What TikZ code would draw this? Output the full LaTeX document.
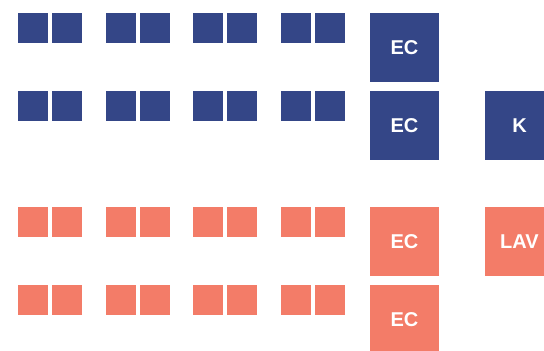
\documentclass[tikz,border=0pt]{standalone}
\usepackage{fontspec}
\setmainfont{Liberation Sans}
\definecolor{navy}{RGB}{52,70,135}
\definecolor{salmon}{RGB}{243,124,104}
\begin{document}
\begin{tikzpicture}[x=1pt,y=-1pt,
  seat/.style={minimum width=30pt,minimum height=30pt,inner sep=0pt,outer sep=0pt,draw=none},
  bigbox/.style={minimum width=69pt,minimum height=69pt,inner sep=0pt,outer sep=0pt,draw=none,
    text=white,font=\fontsize{20}{20}\selectfont\bfseries}]
\useasboundingbox (0,0) rectangle (544,351);
% seat rows
\foreach \r/\y/\c in {1/28/navy,2/106/navy,3/222/salmon,4/300/salmon}{
  \foreach \g/\x in {1/18,2/105.5,3/193,4/280.5}{
    \node[seat,fill=\c] (s\r\g a) at (\x+15,\y) {};
    \node[seat,fill=\c] (s\r\g b) at (\x+49,\y) {};
  }
}
% big boxes
\node[bigbox,fill=navy] (ec1) at (404.5,47.5) {EC};
\node[bigbox,fill=navy] (ec2) at (404.5,125.5) {EC};
\node[bigbox,fill=navy] (k) at (519.5,125.5) {K};
\node[bigbox,fill=salmon] (ec3) at (404.5,241.5) {EC};
\node[bigbox,fill=salmon] (lav) at (519.5,241.5) {LAV};
\node[bigbox,fill=salmon] (ec4) at (404.5,319.5) {EC};
\end{tikzpicture}
\end{document}
